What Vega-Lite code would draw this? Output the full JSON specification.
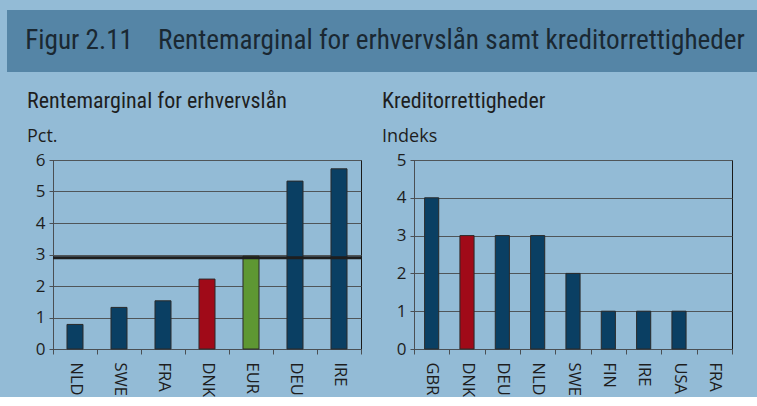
{
  "$schema": "https://vega.github.io/schema/vega-lite/v6.json",
  "background": "#93bbd6",
  "padding": {"left": 7, "top": 10, "right": 0, "bottom": 0},
  "spacing": 17,
  "config": {
    "font": "Open Sans",
    "view": {"stroke": null},
    "axis": {
      "labelFont": "Open Sans",
      "labelFontSize": 17,
      "labelColor": "#1e1e1e",
      "labelOverlap": false,
      "domainColor": "#4a4f54",
      "tickColor": "#4a4f54",
      "gridColor": "#4f5559",
      "gridOpacity": 1,
      "gridWidth": 1,
      "tickSize": 4,
      "title": null
    },
    "title": {
      "font": "Roboto Condensed, Roboto",
      "fontSize": 22,
      "fontWeight": "normal",
      "color": "#1e1e1e",
      "anchor": "start",
      "frame": "bounds",
      "subtitleFont": "Open Sans",
      "subtitleFontSize": 18,
      "subtitleColor": "#1e1e1e",
      "subtitlePadding": 15,
      "offset": 4
    }
  },
  "vconcat": [
    {
      "width": 750,
      "height": 62,
      "view": {"fill": "#5585a6", "stroke": null},
      "data": {"values": [{"t": "Figur 2.11\u00a0\u00a0\u00a0\u00a0Rentemarginal for erhvervslån samt kreditorrettigheder"}]},
      "mark": {"type": "text", "font": "Roboto Condensed, Roboto", "fontSize": 27.2, "color": "#1a2832", "baseline": "middle", "align": "center", "dx": 3},
      "encoding": {"text": {"field": "t", "type": "nominal"}}
    },
    {
      "spacing": 18,
      "hconcat": [
        {
          "width": 1,
          "height": 1,
          "data": {"values": []},
          "mark": {"type": "point", "opacity": 0},
          "encoding": {}
        },
        {
          "width": 308,
          "height": 189,
          "view": {"stroke": "#1a1a1a", "strokeWidth": 1},
          "title": {"text": "Rentemarginal for erhvervslån", "subtitle": "Pct."},
          "data": {"values": [
            {"land": "NLD", "pct": 0.78, "gruppe": "andre"},
            {"land": "SWE", "pct": 1.32, "gruppe": "andre"},
            {"land": "FRA", "pct": 1.53, "gruppe": "andre"},
            {"land": "DNK", "pct": 2.22, "gruppe": "DNK"},
            {"land": "EUR", "pct": 2.95, "gruppe": "EUR"},
            {"land": "DEU", "pct": 5.33, "gruppe": "andre"},
            {"land": "IRE", "pct": 5.72, "gruppe": "andre"}
          ]},
          "layer": [
            {
              "mark": {"type": "bar", "width": {"band": 0.364}, "stroke": "#2a2a2a", "strokeWidth": 1},
              "encoding": {
                "x": {"field": "land", "type": "nominal", "sort": null,
                      "scale": {"paddingInner": 0, "paddingOuter": 0},
                      "axis": {"labelAngle": 90, "tickBand": "extent", "labelPadding": 8, "tickSize": 5, "labelFontSize": 16.5}},
                "y": {"field": "pct", "type": "quantitative", "scale": {"domain": [0, 6], "nice": false},
                      "axis": {"values": [0, 1, 2, 3, 4, 5, 6], "labelPadding": 4, "minExtent": 26, "labelOverlap": false}},
                "color": {"field": "gruppe", "type": "nominal",
                          "scale": {"domain": ["andre", "DNK", "EUR"], "range": ["#0a3f63", "#a00a18", "#5e9733"]},
                          "legend": null}
              }
            },
            {
              "data": {"values": [{"gennemsnit": 2.9}]},
              "mark": {"type": "rule", "color": "#1e1e1e", "strokeWidth": 3},
              "encoding": {"y": {"field": "gennemsnit", "type": "quantitative",
                                 "axis": {"values": [0, 1, 2, 3, 4, 5, 6], "labelPadding": 4, "minExtent": 26, "labelOverlap": false}}}
            }
          ]
        },
        {
          "width": 318,
          "height": 189,
          "view": {"stroke": "#1a1a1a", "strokeWidth": 1},
          "title": {"text": "Kreditorrettigheder", "subtitle": "Indeks"},
          "data": {"values": [
            {"land": "GBR", "indeks": 4, "gruppe": "andre"},
            {"land": "DNK", "indeks": 3, "gruppe": "DNK"},
            {"land": "DEU", "indeks": 3, "gruppe": "andre"},
            {"land": "NLD", "indeks": 3, "gruppe": "andre"},
            {"land": "SWE", "indeks": 2, "gruppe": "andre"},
            {"land": "FIN", "indeks": 1, "gruppe": "andre"},
            {"land": "IRE", "indeks": 1, "gruppe": "andre"},
            {"land": "USA", "indeks": 1, "gruppe": "andre"},
            {"land": "FRA", "indeks": 0, "gruppe": "andre"}
          ]},
          "mark": {"type": "bar", "width": {"band": 0.4}, "stroke": "#2a2a2a", "strokeWidth": 1},
          "encoding": {
            "x": {"field": "land", "type": "nominal", "sort": null,
                  "scale": {"paddingInner": 0, "paddingOuter": 0},
                  "axis": {"labelAngle": 90, "tickBand": "extent", "labelPadding": 8, "tickSize": 5, "labelFontSize": 16.5}},
            "y": {"field": "indeks", "type": "quantitative", "scale": {"domain": [0, 5], "nice": false},
                  "axis": {"values": [0, 1, 2, 3, 4, 5], "labelPadding": 4, "minExtent": 32, "labelOverlap": false}},
            "color": {"field": "gruppe", "type": "nominal",
                      "scale": {"domain": ["andre", "DNK", "EUR"], "range": ["#0a3f63", "#a00a18", "#5e9733"]},
                      "legend": null},
            "strokeOpacity": {"condition": {"test": "datum.indeks == 0", "value": 0}, "value": 1}
          }
        }
      ]
    }
  ]
}
